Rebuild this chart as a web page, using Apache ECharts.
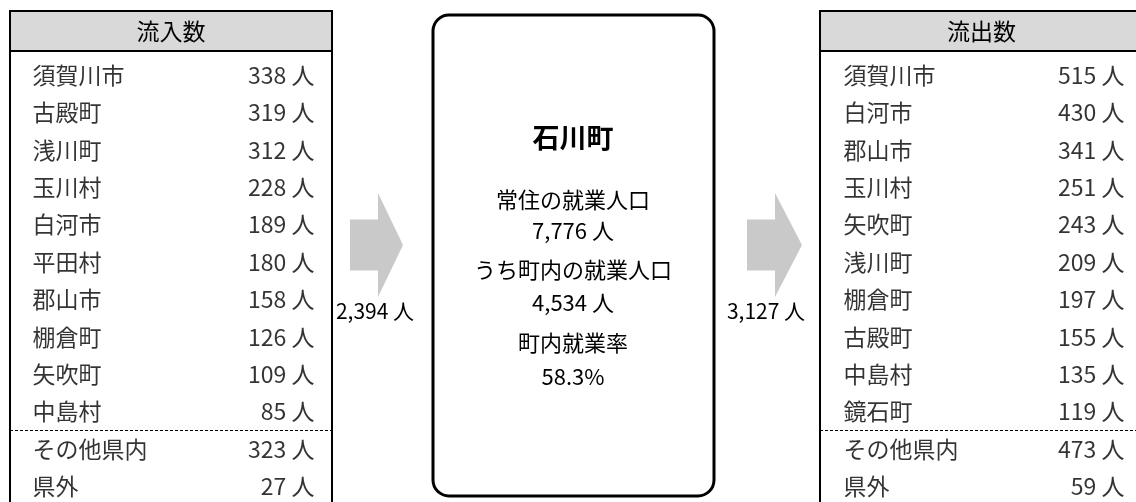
<!DOCTYPE html>
<html lang="ja">
<head>
<meta charset="utf-8">
<title>石川町 流入・流出</title>
<script src="https://cdn.jsdelivr.net/npm/echarts@6/dist/echarts.min.js"></script>
<style>
  html, body { margin: 0; padding: 0; background: #fff; }
  #chart { width: 1136px; height: 502px; }
</style>
</head>
<body>
<div id="chart"></div>
<script>
// 流入数（左の表）
const inflowNames = ['須賀川市', '古殿町', '浅川町', '玉川村', '白河市', '平田村', '郡山市', '棚倉町', '矢吹町', '中島村', 'その他県内', '県外'];
const inflowValues = [338, 319, 312, 228, 189, 180, 158, 126, 109, 85, 323, 27];
// 流出数（右の表）
const outflowNames = ['須賀川市', '白河市', '郡山市', '玉川村', '矢吹町', '浅川町', '棚倉町', '古殿町', '中島村', '鏡石町', 'その他県内', '県外'];
const outflowValues = [515, 430, 341, 251, 243, 209, 197, 155, 135, 119, 473, 59];
const tableTitles = ['流入数', '流出数'];
const flowTotals = [2394, 3127];   // 流入合計, 流出合計
const townName = '石川町';
const centerLabels = ['常住の就業人口', 'うち町内の就業人口', '町内就業率'];
const centerValues = [7776, 4534, 58.3];

const FONT = '"Noto Sans CJK JP", "Noto Sans", sans-serif';
const TEXT_COLOR = '#000';
const fmt = n => n.toLocaleString('en-US') + ' 人';

const chart = echarts.init(document.getElementById('chart'), null, {renderer: 'canvas'});

// 行の間隔（カテゴリ軸で配置）
const rowH = 37.4;
const rowTop = 75 - rowH / 2;

// 表1つ分の grid / 軸 / series を作る
const tableParts = (idx, left, width, names, values) => {
  const grid = {left, top: rowTop, width, height: rowH * names.length, containLabel: false, outerBoundsMode: 'none'};
  const xAxis = {gridIndex: idx, type: 'value', min: 0, max: 1, show: false};
  const yAxis = {gridIndex: idx, type: 'category', data: names, inverse: true, show: false};
  const labelStyle = {show: true, color: TEXT_COLOR, fontFamily: FONT, fontSize: 23, distance: 0};
  const series = [
    {
      type: 'scatter', xAxisIndex: idx, yAxisIndex: idx, silent: true,
      symbolSize: 1, itemStyle: {color: 'rgba(0,0,0,0)'},
      label: {...labelStyle, position: 'right', formatter: p => p.name},
      data: names.map((n, i) => ({name: n, value: [0, i]}))
    },
    {
      type: 'scatter', xAxisIndex: idx, yAxisIndex: idx, silent: true,
      symbolSize: 1, itemStyle: {color: 'rgba(0,0,0,0)'},
      label: {...labelStyle, position: 'left', formatter: p => fmt(values[p.dataIndex])},
      data: values.map((v, i) => [1, i])
    }
  ];
  return {grid, xAxis, yAxis, series};
};

const leftT = tableParts(0, 32, 283, inflowNames, inflowValues);
const rightT = tableParts(1, 843, 282, outflowNames, outflowValues);

// 表の枠（ヘッダ・点線）
const tableFrame = (x, w, title) => [
  {type: 'rect', shape: {x, y: 11, width: w, height: 40}, style: {fill: '#d9d9d9'}},
  {type: 'rect', shape: {x, y: 11, width: w, height: 520}, style: {fill: 'none', stroke: '#000', lineWidth: 2}},
  {type: 'line', shape: {x1: x, y1: 51, x2: x + w, y2: 51}, style: {stroke: '#000', lineWidth: 2}},
  {type: 'line', shape: {x1: x, y1: 430.5, x2: x + w, y2: 430.5}, style: {stroke: '#000', lineWidth: 1, lineDash: [3, 2]}},
  {type: 'text', x: x + w / 2, y: 31, style: {text: title, fill: TEXT_COLOR, font: '23px ' + FONT, textAlign: 'center', textVerticalAlign: 'middle'}}
];

// 矢印
const arrow = (x0, x1, tip) => ({
  type: 'polygon',
  shape: {points: [[x0, 219.5], [x1, 219.5], [x1, 193], [tip, 245], [x1, 297], [x1, 270.5], [x0, 270.5]]},
  style: {fill: '#c9c9c9'}
});

const centerText = (text, y, size, bold) => ({
  type: 'text', x: 573, y,
  style: {text, fill: TEXT_COLOR, font: (bold ? 'bold ' : '') + size + 'px ' + FONT, textAlign: 'center', textVerticalAlign: 'middle'}
});

const option = {
  backgroundColor: '#fff',
  animation: false,
  grid: [leftT.grid, rightT.grid],
  xAxis: [leftT.xAxis, rightT.xAxis],
  yAxis: [leftT.yAxis, rightT.yAxis],
  series: [...leftT.series, ...rightT.series],
  graphic: [
    ...tableFrame(10, 322, tableTitles[0]),
    ...tableFrame(820, 323, tableTitles[1]),
    // 中央の箱
    {type: 'rect', shape: {x: 433, y: 15, width: 281, height: 481, r: 16}, style: {fill: 'none', stroke: '#000', lineWidth: 3}},
    centerText(townName, 138, 27, true),
    centerText(centerLabels[0], 200, 22),
    centerText(fmt(centerValues[0]), 231, 22),
    centerText(centerLabels[1], 270, 22),
    centerText(fmt(centerValues[1]), 303, 22),
    centerText(centerLabels[2], 343, 22),
    centerText(centerValues[2].toFixed(1) + '%', 377, 22),
    arrow(350, 378, 403),
    arrow(747, 775, 802),
    {type: 'text', x: 375, y: 311, style: {text: fmt(flowTotals[0]), fill: TEXT_COLOR, font: '21px ' + FONT, textAlign: 'center', textVerticalAlign: 'middle'}},
    {type: 'text', x: 766, y: 311, style: {text: fmt(flowTotals[1]), fill: TEXT_COLOR, font: '21px ' + FONT, textAlign: 'center', textVerticalAlign: 'middle'}}
  ]
};

chart.setOption(option);
window.addEventListener('resize', () => chart.resize());
</script>
</body>
</html>
